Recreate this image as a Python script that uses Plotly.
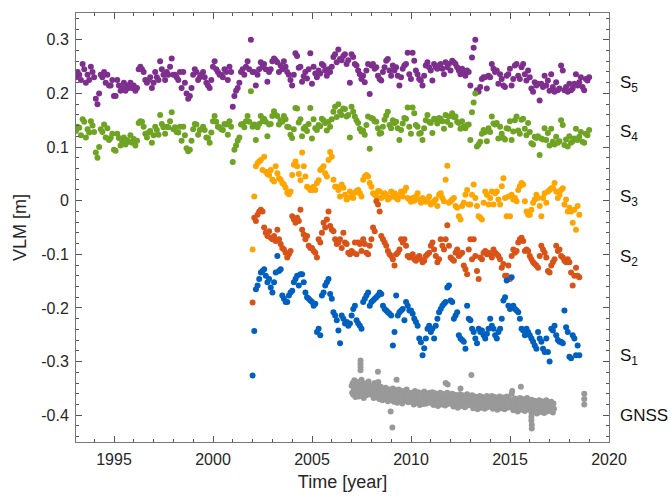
import plotly.graph_objects as go

# ---------------- data (values in mm) ----------------
s5_start = 1993.08  # monthly series
s5_mm = [
    230,240,235,225,255,245,220,235,225,250,240,230,
    190,180,200,235,230,240,220,235,215,215,225,195,
    195,225,215,205,210,220,205,215,210,220,210,215,
    205,210,245,250,245,240,225,220,225,230,210,220,
    240,230,225,260,245,235,225,240,235,250,265,235,
    235,230,225,240,210,240,220,200,190,195,210,235,
    245,240,225,230,235,240,230,220,215,210,225,250,
    260,245,240,235,235,230,245,240,225,250,240,175,
    195,205,210,220,240,245,235,250,260,245,300,240,
    240,215,235,245,258,250,255,245,222,240,245,260,
    265,262,258,240,252,245,260,250,240,235,225,215,
    235,275,270,248,250,222,232,240,228,245,275,218,
    250,237,230,243,237,255,252,243,233,245,240,250,
    268,273,258,282,264,262,270,273,255,262,220,273,
    268,255,252,243,236,227,233,221,243,255,199,252,
    255,246,249,233,227,224,240,249,261,264,243,233,
    252,243,249,233,215,230,246,252,255,276,236,227,
    276,261,243,236,227,224,215,233,252,258,249,243,
    224,255,249,246,252,255,246,236,258,249,255,243,
    261,258,255,249,243,236,246,240,233,243,240,215,
    267,285,300,206,203,212,227,230,230,209,233,230,
    255,246,240,243,218,236,227,215,212,233,236,246,
    215,227,252,255,233,227,249,255,236,224,243,230,
    209,203,221,215,218,187,218,212,233,215,224,205,
    236,212,203,221,206,209,252,243,206,212,203,218,
    206,209,218,236,215,221,230,212,206,227,224,230,
]
s4_start = 1993.08
s4_mm = [
    130,138,136,122,152,147,118,133,127,148,140,128,
    90,80,100,133,128,142,118,135,113,117,125,95,
    93,125,117,103,110,118,105,113,110,122,108,115,
    103,112,145,148,147,138,125,118,127,130,108,122,
    138,132,123,160,143,137,125,138,137,148,165,133,
    137,128,127,138,112,138,122,98,92,95,112,133,
    143,142,123,132,133,138,132,118,117,108,127,148,
    158,147,138,137,133,132,143,142,123,148,138,72,
    95,103,112,118,142,143,137,148,158,147,204,138,
    142,113,137,143,158,148,153,147,120,142,143,158,
    167,160,158,142,150,147,158,152,138,137,123,117,
    133,173,172,146,152,120,134,138,130,143,173,116,
    152,135,132,141,139,153,150,145,131,147,138,152,
    166,175,156,180,166,160,172,171,157,160,118,175,
    166,157,150,145,134,129,131,123,141,157,97,154,
    153,148,147,135,125,126,138,151,159,166,141,135,
    150,145,147,135,113,132,144,154,153,174,138,125,
    174,163,141,138,125,126,113,135,150,160,147,145,
    126,153,151,144,154,153,148,134,160,147,157,141,
    163,156,157,147,145,134,148,138,135,141,142,113,
    165,183,200,101,105,110,125,132,128,111,135,128,
    157,144,142,145,116,138,125,117,114,135,134,148,
    113,129,150,157,131,125,151,153,134,122,145,128,
    107,105,119,117,120,85,116,114,135,113,126,103,
    134,110,105,119,108,111,150,141,104,114,101,120,
    108,111,116,134,113,119,128,110,108,125,122,132,
]
s3_start = 2002.0
s3_mm = [
    -91,8,64,70,73,76,57,82,54,50,48,57,
    39,36,64,51,42,39,33,30,24,15,12,17,
    48,67,73,64,50,38,90,64,45,26,24,20,
    20,26,20,33,38,57,60,64,51,45,76,91,
    82,39,26,26,20,8,30,24,11,2,5,17,
    8,5,15,18,20,14,8,39,45,48,45,33,
    26,14,11,8,18,17,5,8,14,11,2,5,
    17,8,14,5,2,11,17,8,18,24,5,2,
    -2,5,0,8,14,2,-4,5,0,-2,2,8,
    -7,-4,-1,2,-10,11,14,5,-1,39,65,-4,
    -1,2,5,-10,-13,-29,-35,-10,-4,11,20,-7,
    -7,11,30,5,-10,-29,-32,-35,-4,17,11,-7,
    5,17,-7,14,17,2,-7,27,42,5,-29,8,
    -29,11,2,5,-1,20,27,33,30,-1,-20,-26,
    -26,-17,-4,2,11,5,-10,-29,5,14,-4,17,
    20,23,23,33,17,5,11,20,23,-7,2,-20,
    -13,-20,-41,-17,-54,-10,-26,
]
s2_start = 2002.0
s2_mm = [
    -190,-32,-38,-26,-20,-17,-20,-50,-60,-66,-57,-69,
    -72,-66,-75,-54,-72,-81,-88,-91,-97,-106,-100,-94,
    -29,-35,-41,-32,-38,-17,-54,-63,-72,-66,-84,-88,
    -88,-94,-97,-106,-72,-78,-60,-41,-50,-35,-20,-47,
    -54,-57,-72,-81,-78,-72,-88,-60,-78,-81,-97,-100,
    -94,-97,-78,-100,-78,-81,-94,-72,-81,-97,-100,-84,
    -72,-50,-57,-1,-7,-20,-66,-72,-78,-84,-94,-100,
    -103,-109,-121,-100,-97,-91,-72,-78,-72,-84,-103,-106,
    -103,-100,-109,-112,-106,-103,-109,-115,-112,-103,-100,-97,
    -84,-78,-91,-103,-115,-109,-72,-84,-91,-72,-46,-84,
    -106,-109,-112,-97,-91,-103,-100,-97,-121,-128,-137,-91,
    -72,-109,-72,-103,-131,-146,-106,-109,-97,-94,-100,-97,
    -100,-106,-91,-97,-100,-103,-109,-125,-118,-140,-140,-121,
    -146,-103,-91,-97,-94,-78,-72,-69,-75,-94,-91,-94,
    -103,-109,-115,-118,-121,-125,-103,-84,-91,-97,-106,-131,
    -134,-121,-115,-109,-84,-94,-91,-103,-106,-112,-115,-109,
    -115,-134,-158,-140,-125,-140,-143,
]
s1_start = 2002.0
s1_mm = [
    -326,-243,-165,-158,-146,-134,-131,-128,-140,-152,-146,-162,
    -171,-152,-134,-103,-131,-128,-177,-183,-189,-189,-177,-171,
    -168,-152,-146,-140,-158,-137,-137,-152,-171,-180,-183,-186,
    -189,-196,-192,-245,-239,-251,-177,-171,-158,-152,-146,-174,
    -183,-208,-214,-223,-242,-266,-214,-220,-229,-226,-233,-229,
    -214,-202,-196,-223,-229,-233,-239,-189,-183,-177,-171,-196,
    -189,-186,-183,-180,-177,-171,-174,-196,-202,-205,-208,-211,
    -214,-270,-245,-177,-214,-208,-205,-202,-223,-189,-196,-205,
    -205,-211,-220,-226,-233,-257,-264,-288,-275,-257,-239,-233,
    -245,-239,-257,-233,-220,-208,-202,-196,-192,-189,-162,-158,
    -186,-189,-220,-214,-208,-251,-257,-260,-263,-276,-196,-220,
    -223,-239,-245,-257,-266,-239,-245,-242,-251,-257,-248,-239,
    -220,-233,-239,-251,-257,-245,-239,-220,-186,-180,-149,-196,
    -202,-143,-196,-202,-205,-208,-220,-239,-242,-251,-239,-245,
    -251,-257,-263,-270,-276,-245,-257,-263,-276,-282,-257,-282,
    -300,-239,-242,-233,-251,-260,-263,-263,-266,-205,-236,-245,
    -291,-294,-251,-257,-288,-270,-288,
]
gnss_start = 2007.0  # three samples per month
gnss_mm = [
    -345,-358,-340,-362,-350,-335,-355,-366,-348,-342,-360,-352,-338,-365,-351,-346,-359,-343,-362,-349,-355,-340,-368,-352,-347,-357,-341,-363,-350,-345,-358,-337,-361,-353,-348,-356,
    -350,-362,-345,-358,-368,-352,-340,-360,-355,-348,-366,-357,-344,-361,-370,-353,-359,-347,-365,-356,-372,-360,-351,-367,-358,-363,-349,-370,-361,-355,-374,-357,-366,-352,-369,-360,
    -358,-372,-361,-350,-368,-375,-357,-366,-353,-371,-362,-377,-359,-367,-352,-373,-364,-356,-370,-361,-378,-355,-368,-363,-374,-357,-365,-371,-352,-369,-360,-376,-366,-358,-372,-363,
    -361,-375,-358,-370,-366,-380,-363,-355,-372,-368,-377,-360,-369,-357,-374,-365,-381,-362,-371,-359,-376,-367,-364,-379,-356,-370,-373,-362,-378,-366,-360,-375,-368,-371,-358,-377,
    -362,-376,-368,-357,-373,-381,-365,-370,-359,-378,-367,-372,-361,-383,-369,-364,-375,-358,-371,-380,-366,-374,-360,-377,-369,-363,-382,-370,-365,-373,-358,-379,-367,-371,-362,-376,
    -365,-378,-370,-360,-376,-384,-368,-373,-362,-381,-370,-375,-364,-386,-372,-367,-378,-361,-374,-383,-369,-377,-363,-380,-372,-366,-385,-373,-368,-376,-361,-382,-370,-374,-365,-379,
    -368,-381,-373,-363,-379,-387,-371,-376,-365,-384,-373,-378,-367,-389,-375,-370,-381,-364,-377,-386,-372,-380,-366,-383,-375,-369,-388,-376,-371,-379,-364,-385,-373,-377,-368,-382,
    -369,-382,-374,-364,-380,-388,-372,-377,-366,-385,-374,-379,-368,-390,-376,-371,-382,-365,-378,-387,-373,-381,-367,-384,-376,-370,-389,-377,-372,-380,-365,-386,-374,-378,-369,-383,
    -372,-385,-377,-360,-355,-383,-391,-375,-380,-369,-388,-377,-382,-371,-393,-379,-374,-385,-368,-381,-390,-376,-384,-370,-387,-379,-373,-392,-380,-375,-383,-368,-389,-377,-381,-372,
    -376,-389,-381,-371,-387,-395,-379,-384,-373,-392,-381,-386,-375,-397,-383,-378,-389,-372,-385,-394,-380,-388,-374,-391,-383,-377,-396,-384,-379,-387,-372,-393,-381,-385,-376,-390,
    -380,-392,-384,-375,-390,-386,-395,-378,-388,
]
gnss_extra_t = [2007.45, 2007.45, 2007.45, 2007.45, 2007.5, 2008.33, 2008.35, 2008.97, 2009.06,
                2009.27, 2011.75, 2011.85, 2012.5, 2013.05, 2015.55, 2016.08, 2016.08, 2016.08,
                2016.1, 2016.1, 2018.75, 2018.75, 2018.75]
gnss_extra_mm = [-298, -304, -310, -316, -334, -319, -338, -393, -423, -334, -340, -343, -350,
                 -325, -347, -395, -403, -410, -418, -425, -360, -370, -380]

labels = ["S<sub>5</sub>", "S<sub>4</sub>", "S<sub>3</sub>", "S<sub>2</sub>", "S<sub>1</sub>", "GNSS"]
label_levels = [0.218, 0.126, 0.005, -0.106, -0.292, -0.40]

x_tickvals = [1995, 2000, 2005, 2010, 2015, 2020]
y_tickvals = [-0.4, -0.3, -0.2, -0.1, 0, 0.1, 0.2, 0.3]
y_ticktext = ["-0.4", "-0.3", "-0.2", "-0.1", "0", "0.1", "0.2", "0.3"]

# ---------------- figure ----------------
FONT = "Liberation Sans, Arial"


def monthly(start, vals, per_year=12):
    return [start + i / per_year for i in range(len(vals))], [v / 1000 for v in vals]


series = [
    (s5_start, s5_mm, "#7E2F8E"),
    (s4_start, s4_mm, "#6FA324"),
    (s3_start, s3_mm, "#FFA500"),
    (s2_start, s2_mm, "#D95319"),
    (s1_start, s1_mm, "#0060BF"),
]

fig = go.Figure()
gx, gy = monthly(gnss_start, gnss_mm, 36)
fig.add_trace(go.Scatter(x=gx + gnss_extra_t, y=gy + [v / 1000 for v in gnss_extra_mm],
                         mode="markers", marker=dict(size=6, color="#999999"), showlegend=False))
for start, vals, col in series:
    x, y = monthly(start, vals)
    fig.add_trace(go.Scatter(x=x, y=y, mode="markers",
                             marker=dict(size=6, color=col), showlegend=False))

for lab, lev in zip(labels, label_levels):
    fig.add_annotation(x=1.016, xref="paper", y=lev, yref="y", text=lab, showarrow=False,
                       xanchor="left", yanchor="middle",
                       font=dict(family=FONT, size=17, color="#111111"))

axis_common = dict(
    showline=True, linecolor="#777777", linewidth=1, mirror="allticks",
    ticks="inside", ticklen=6, tickcolor="#555555", tickwidth=1,
    showgrid=False, zeroline=False, automargin=True,
    tickfont=dict(family=FONT, size=16, color="#262626"),
)
fig.update_xaxes(range=[1993.08, 2020], tickvals=x_tickvals, ticklabelstandoff=3,
                 minor=dict(dtick=1, ticks="inside", ticklen=3, tickcolor="#555555", showgrid=False),
                 title=dict(text="Time [year]", font=dict(family=FONT, size=18, color="#262626"), standoff=8),
                 **axis_common)
fig.update_yaxes(range=[-0.45, 0.35], tickvals=y_tickvals, ticktext=y_ticktext, ticklabelstandoff=3,
                 minor=dict(dtick=0.02, tick0=0, ticks="inside", ticklen=3, tickcolor="#555555", showgrid=False),
                 title=dict(text="VLM [m]", font=dict(family=FONT, size=18, color="#262626"), standoff=9),
                 **axis_common)
fig.update_layout(width=671, height=501, margin=dict(l=76, r=62, t=12, b=58),
                  plot_bgcolor="white", paper_bgcolor="white")
fig.write_html("out.html")
